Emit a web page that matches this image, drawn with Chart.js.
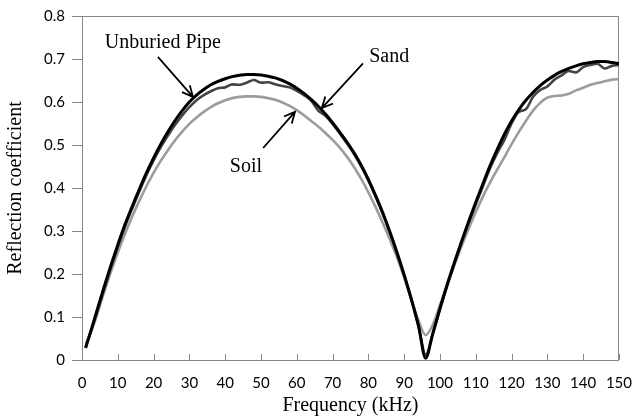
<!DOCTYPE html>
<html>
<head>
<meta charset="utf-8">
<script src="https://cdn.jsdelivr.net/npm/chart.js@4"></script>
<style>
  body { margin: 0; background: #fff; }
  #wrap { width: 634px; height: 416px; }
</style>
</head>
<body>
<div id="wrap"><canvas id="chart" width="634" height="416"></canvas></div>
<script>
// frequency (kHz) and reflection coefficients
const freq = [1, 2, 4, 6, 8, 10, 12, 14, 16, 18, 20, 22, 24, 26, 28, 30, 32, 34, 36, 38,
  40, 42, 44, 46, 48, 50, 52, 54, 56, 58, 60, 62, 64, 66, 68, 70, 72, 74, 76, 78,
  80, 82, 84, 86, 88, 90, 92, 94, 96, 98, 100, 102, 104, 106, 108, 110, 112, 114, 116, 118,
  120, 122, 124, 126, 128, 130, 132, 134, 136, 138, 140, 142, 144, 146, 148, 150];

const unburied = [0.028, 0.055, 0.11, 0.165, 0.218, 0.268, 0.315, 0.357, 0.397, 0.435,
  0.47, 0.502, 0.531, 0.557, 0.58, 0.6, 0.616, 0.629, 0.64, 0.648,
  0.654, 0.659, 0.662, 0.664, 0.664, 0.663, 0.66, 0.656, 0.65, 0.642,
  0.632, 0.62, 0.606, 0.59, 0.572, 0.552, 0.53, 0.507, 0.482, 0.453,
  0.42, 0.383, 0.343, 0.298, 0.25, 0.198, 0.142, 0.08, 0.004, 0.062,
  0.12, 0.175, 0.226, 0.275, 0.322, 0.367, 0.41, 0.452, 0.49, 0.525,
  0.556, 0.582, 0.604, 0.622, 0.638, 0.651, 0.662, 0.671, 0.678, 0.684,
  0.689, 0.692, 0.694, 0.694, 0.692, 0.689];

const sand = [0.03, 0.053, 0.106, 0.16, 0.213, 0.263, 0.31, 0.352, 0.392, 0.43,
  0.464, 0.495, 0.522, 0.547, 0.569, 0.588, 0.604, 0.616, 0.625, 0.632,
  0.634, 0.641, 0.64, 0.645, 0.651, 0.645, 0.646, 0.641, 0.637, 0.634,
  0.626, 0.616, 0.603, 0.58, 0.568, 0.549, 0.527, 0.504, 0.479, 0.45,
  0.417, 0.38, 0.34, 0.296, 0.248, 0.196, 0.14, 0.078, 0.012, 0.06,
  0.118, 0.172, 0.223, 0.272, 0.318, 0.362, 0.404, 0.446, 0.481, 0.512,
  0.55, 0.577, 0.583, 0.612, 0.628, 0.636, 0.652, 0.662, 0.672, 0.669,
  0.681, 0.686, 0.689, 0.678, 0.684, 0.686];

const soil = [0.038, 0.055, 0.1, 0.153, 0.203, 0.25, 0.293, 0.333, 0.37, 0.404,
  0.435, 0.463, 0.488, 0.511, 0.531, 0.549, 0.564, 0.577, 0.588, 0.597,
  0.604, 0.609, 0.612, 0.613, 0.613, 0.612, 0.609, 0.605, 0.599, 0.591,
  0.581, 0.569, 0.556, 0.543, 0.528, 0.512, 0.494, 0.473, 0.449, 0.421,
  0.39, 0.356, 0.319, 0.28, 0.239, 0.192, 0.14, 0.092, 0.058, 0.082,
  0.128, 0.174, 0.22, 0.264, 0.305, 0.344, 0.38, 0.413, 0.443, 0.472,
  0.502, 0.53, 0.556, 0.58, 0.598, 0.61, 0.614, 0.615, 0.619, 0.627,
  0.633, 0.64, 0.644, 0.648, 0.652, 0.653];

const xTicks = [0, 10, 20, 30, 40, 50, 60, 70, 80, 90, 100, 110, 120, 130, 140, 150];
const yTicks = [0, 0.1, 0.2, 0.3, 0.4, 0.5, 0.6, 0.7, 0.8];

// labels with arrows, in data units: text position, arrow tail, arrow head
const notes = [
  { text: 'Unburied Pipe', at: [22.6, 0.737], from: [21.2, 0.705], to: [31, 0.612] },
  { text: 'Sand', at: [85.8, 0.705], from: [78.5, 0.69], to: [67, 0.586] },
  { text: 'Soil', at: [45.8, 0.449], from: [50.6, 0.493], to: [59.5, 0.577] }
];

const axisGrey = '#868686';
const serif = "'Liberation Serif', 'Times New Roman', serif";
const sans = "Lato, 'Open Sans', sans-serif";

const pts = ys => freq.map((f, i) => ({ x: f, y: ys[i] }));

// box around the plot and the inward x ticks
const frame = {
  id: 'frame',
  beforeDatasetsDraw(c) {
    const { ctx, chartArea: a, scales } = c;
    ctx.save();
    ctx.strokeStyle = axisGrey;
    ctx.lineWidth = 1;
    ctx.strokeRect(a.left + 0.5, a.top + 0.5, a.right - a.left - 1, a.bottom - a.top);
    ctx.beginPath();
    xTicks.forEach(t => {
      const px = Math.round(scales.x.getPixelForValue(t)) + 0.5;
      ctx.moveTo(px, a.bottom);
      ctx.lineTo(px, a.bottom - 6);
    });
    ctx.stroke();
    ctx.restore();
  }
};

// annotation texts and arrows
const arrows = {
  id: 'arrows',
  afterDatasetsDraw(c) {
    const { ctx, scales } = c;
    const P = p => [scales.x.getPixelForValue(p[0]), scales.y.getPixelForValue(p[1])];
    ctx.save();
    ctx.fillStyle = '#000';
    ctx.strokeStyle = '#000';
    ctx.lineWidth = 1.8;
    ctx.font = '20px ' + serif;
    ctx.textAlign = 'center';
    ctx.textBaseline = 'middle';
    notes.forEach(n => {
      const [tx, ty] = P(n.at);
      ctx.fillText(n.text, tx, ty);
      const [x0, y0] = P(n.from);
      const [x1, y1] = P(n.to);
      const ang = Math.atan2(y1 - y0, x1 - x0);
      ctx.beginPath();
      ctx.moveTo(x0, y0);
      ctx.lineTo(x1, y1);
      ctx.moveTo(x1 - 12 * Math.cos(ang - 0.45), y1 - 12 * Math.sin(ang - 0.45));
      ctx.lineTo(x1, y1);
      ctx.lineTo(x1 - 12 * Math.cos(ang + 0.45), y1 - 12 * Math.sin(ang + 0.45));
      ctx.stroke();
    });
    ctx.restore();
  }
};

new Chart(document.getElementById('chart'), {
  type: 'line',
  data: {
    datasets: [
      { label: 'Unburied Pipe', data: pts(unburied), borderColor: '#000000', borderWidth: 3 },
      { label: 'Sand', data: pts(sand), borderColor: '#444444', borderWidth: 2.6 },
      { label: 'Soil', data: pts(soil), borderColor: '#9c9c9c', borderWidth: 2.6 }
    ]
  },
  options: {
    responsive: false,
    animation: false,
    layout: { padding: { left: 0, top: 0, right: 0, bottom: 0 } },
    elements: {
      point: { radius: 0 },
      line: { cubicInterpolationMode: 'monotone', fill: false }
    },
    plugins: { legend: { display: false }, tooltip: { enabled: false } },
    scales: {
      x: {
        type: 'linear',
        min: 0,
        max: 150,
        afterBuildTicks: s => { s.ticks = xTicks.map(v => ({ value: v })); },
        afterFit: s => { s.height = 56; },
        grid: { drawOnChartArea: false, tickLength: 12, tickColor: 'rgba(0,0,0,0)' },
        border: { color: axisGrey, width: 1 },
        ticks: { color: '#000', padding: 2, maxRotation: 0, font: { family: sans, size: 15 } },
        title: {
          display: true,
          text: 'Frequency (kHz)',
          color: '#000',
          padding: 0,
          font: { family: serif, size: 20, lineHeight: 1 }
        }
      },
      y: {
        min: 0,
        max: 0.8,
        afterBuildTicks: s => { s.ticks = yTicks.map(v => ({ value: v })); },
        afterFit: s => { s.width = 82; },
        grid: { drawOnChartArea: false, color: axisGrey, tickLength: 10 },
        border: { color: axisGrey, width: 1 },
        ticks: { color: '#000', padding: 7, font: { family: sans, size: 15 } },
        title: {
          display: true,
          text: 'Reflection coefficient',
          color: '#000',
          padding: { top: 6, bottom: 0 },
          font: { family: serif, size: 20, lineHeight: 1 }
        }
      }
    }
  },
  plugins: [frame, arrows]
});
</script>
</body>
</html>
